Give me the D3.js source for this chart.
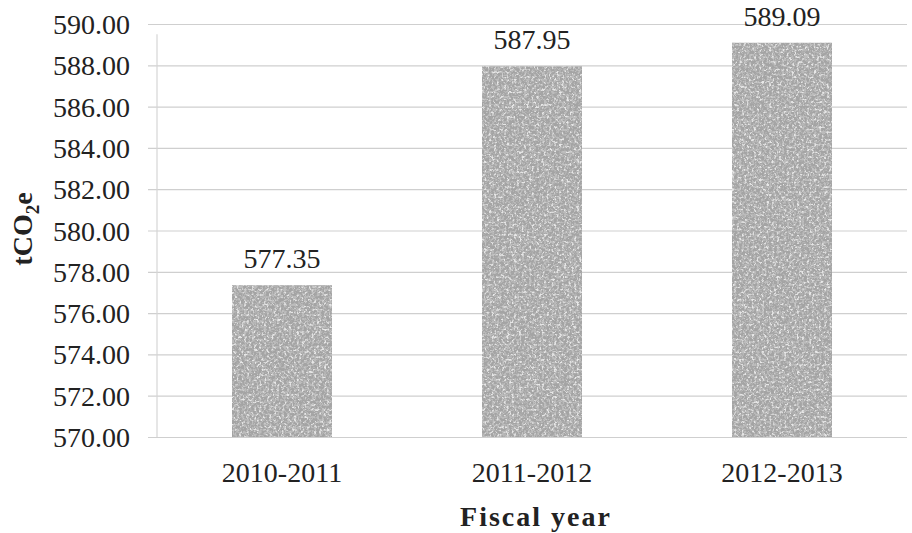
<!DOCTYPE html>
<html>
<head>
<meta charset="utf-8">
<script src="https://cdn.jsdelivr.net/npm/d3@7"></script>
<style>
  body { margin: 0; background: #fff; }
</style>
</head>
<body>
<div id="chart"></div>
<script>
// Chart data
var years = ['2010-2011', '2011-2012', '2012-2013'];
var emissions = [577.35, 587.95, 589.09];
var yTicks = [570, 572, 574, 576, 578, 580, 582, 584, 586, 588, 590];

var serif = '"Liberation Serif", "Times New Roman", serif';

var width = 912,
    height = 533,
    margin = {top: 24, right: 5, bottom: 96, left: 157};

var svg = d3.select('#chart')
            .append('svg')
            .attr('width', width)
            .attr('height', height);

// grainy gray texture for the bars
var defs = svg.append('defs');
var filt = defs.append('filter')
               .attr('id', 'grain')
               .attr('x', 0).attr('y', 0).attr('width', 1).attr('height', 1);
filt.append('feTurbulence')
    .attr('type', 'fractalNoise')
    .attr('baseFrequency', 0.4)
    .attr('numOctaves', 3)
    .attr('seed', 7)
    .attr('result', 'noise');
filt.append('feColorMatrix')
    .attr('in', 'noise')
    .attr('type', 'matrix')
    .attr('values', '0 0 0 0 0.5  0 0 0 0 0.5  0 0 0 0 0.5  5 0 0 0 -2.4')
    .attr('result', 'dark');
filt.append('feColorMatrix')
    .attr('in', 'noise')
    .attr('type', 'matrix')
    .attr('values', '0 0 0 0 0.8  0 0 0 0 0.8  0 0 0 0 0.8  0 5 0 0 -2.6')
    .attr('result', 'light');
filt.append('feComposite')
    .attr('in', 'dark').attr('in2', 'SourceGraphic')
    .attr('operator', 'in').attr('result', 'darkIn');
filt.append('feComposite')
    .attr('in', 'light').attr('in2', 'SourceGraphic')
    .attr('operator', 'in').attr('result', 'lightIn');
var merge = filt.append('feMerge');
merge.append('feMergeNode').attr('in', 'SourceGraphic');
merge.append('feMergeNode').attr('in', 'lightIn');
merge.append('feMergeNode').attr('in', 'darkIn');

var w = width - margin.left - margin.right,
    h = height - margin.top - margin.bottom;

var g = svg.append('g')
           .attr('transform', 'translate(' + margin.left + ',' + margin.top + ')');

var x = d3.scaleBand()
          .domain(years)
          .range([0, w])
          .paddingInner(0.6)
          .paddingOuter(0.3);

var y = d3.scaleLinear()
          .domain([570, 590])
          .range([h, 0]);

// gridlines and y labels
var y_axis = d3.axisLeft(y)
               .tickValues(yTicks)
               .tickFormat(d3.format('.2f'))
               .tickSizeInner(-w - 9)
               .tickSizeOuter(0)
               .tickPadding(17);

var yg = g.append('g')
          .attr('transform', 'translate(-9,0)')
          .call(y_axis);
yg.select('.domain').remove();
yg.selectAll('.tick line')
  .attr('stroke', '#cfcfcf')
  .attr('stroke-width', 1.2);
yg.selectAll('.tick text')
  .attr('x', -18)
  .attr('dy', '0.34em')
  .style('font-family', serif)
  .style('font-size', '28px')
  .attr('fill', '#222');

// faint vertical axis line
g.append('line')
 .attr('x1', 0).attr('x2', 0)
 .attr('y1', y(589.5)).attr('y2', y(570))
 .attr('stroke', '#d6d6d6')
 .attr('stroke-width', 1.2);

// bars
g.selectAll('.bar')
 .data(emissions)
 .enter()
 .append('rect')
 .attr('class', 'bar')
 .attr('x', function(d, i) { return x(years[i]); })
 .attr('y', function(d) { return y(d); })
 .attr('width', x.bandwidth())
 .attr('height', function(d) { return h - y(d); })
 .attr('fill', '#a4a4a4')
 .attr('filter', 'url(#grain)');

// value labels
g.selectAll('.val')
 .data(emissions)
 .enter()
 .append('text')
 .attr('class', 'val')
 .attr('x', function(d, i) { return x(years[i]) + x.bandwidth() / 2; })
 .attr('y', function(d) { return y(d) - 17; })
 .attr('text-anchor', 'middle')
 .style('font-family', serif)
 .style('font-size', '28px')
 .attr('fill', '#222')
 .text(function(d) { return d.toFixed(2); });

// x labels
var x_axis = d3.axisBottom(x).tickSize(0).tickPadding(0);
var xg = g.append('g')
          .attr('transform', 'translate(0,' + h + ')')
          .call(x_axis);
xg.select('.domain').remove();
xg.selectAll('.tick text')
  .attr('dy', null)
  .attr('y', 45)
  .style('font-family', serif)
  .style('font-size', '28px')
  .attr('fill', '#222');

// axis titles
svg.append('text')
   .attr('x', 536)
   .attr('y', 526)
   .attr('text-anchor', 'middle')
   .style('font-family', serif)
   .style('font-size', '28px')
   .style('font-weight', 'bold')
   .style('letter-spacing', '2px')
   .attr('fill', '#222')
   .text('Fiscal year');

var yt = svg.append('text')
            .attr('transform', 'translate(32,' + 229 + ') rotate(-90)')
            .attr('text-anchor', 'middle')
            .style('font-family', serif)
            .style('font-size', '28px')
            .style('font-weight', 'bold')
            .attr('fill', '#222');
yt.append('tspan').text('tCO');
yt.append('tspan').attr('dy', 7).style('font-size', '19px').text('2');
yt.append('tspan').attr('dy', -7).text('e');
</script>
</body>
</html>
